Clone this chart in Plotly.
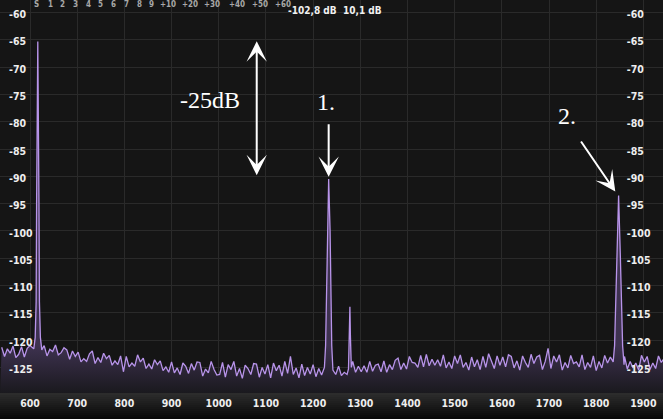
import numpy as np
import plotly.graph_objects as go

# ---------------- data ----------------
noise_start_hz = 540
noise_step_hz = 6
noise_db = [
    -121.3, -123.0, -121.6, -122.4, -121.1, -123.2, -122.6, -121.2, -123.1, -121.5,
    -121.0, -121.4, -120.5, -120.0, -121.5, -121.0, -122.9, -121.7, -122.1, -120.9,
    -122.7, -122.3, -121.4, -121.8, -123.5, -122.0, -123.0, -122.2, -124.0, -123.4,
    -123.9, -122.5, -122.0, -124.3, -123.2, -124.1, -122.4, -123.4, -122.8, -124.6,
    -123.8, -124.5, -122.9, -125.8, -123.0, -124.9, -124.2, -124.8, -122.7, -124.0,
    -123.3, -125.2, -124.4, -125.3, -123.6, -124.5, -123.8, -125.6, -124.9, -125.9,
    -124.0, -126.0, -125.1, -126.3, -124.2, -124.8, -126.1, -124.3, -125.5, -124.0,
    -124.1, -126.6, -125.3, -126.0, -123.9, -125.4, -126.4, -126.3, -124.1, -126.8,
    -124.5, -125.4, -123.9, -126.6, -125.2, -127.0, -124.6, -125.2, -126.3, -124.3,
    -124.4, -126.8, -125.0, -126.2, -124.5, -126.9, -124.2, -125.6, -124.6, -126.6,
    -123.9, -126.1, -123.0, -126.3, -125.1, -126.9, -124.4, -126.5, -125.0, -126.2,
    -124.5, -126.7, -125.2, -126.4, -125.2, -125.0, -125.0, -125.4, -126.3, -124.8,
    -126.5, -125.9, -126.3, -125.0, -123.9, -125.9, -124.8, -125.8, -124.7, -125.9,
    -123.9, -125.7, -124.6, -124.4, -125.8, -123.8, -125.9, -124.5, -125.4, -123.7,
    -123.3, -125.4, -124.2, -125.3, -123.0, -124.1, -124.2, -125.0, -122.8, -124.9,
    -122.6, -124.7, -123.5, -124.6, -123.6, -124.8, -122.7, -125.1, -124.0, -125.2,
    -122.9, -124.3, -122.7, -125.0, -124.1, -125.5, -123.1, -124.9, -123.6, -125.4,
    -123.0, -125.0, -122.5, -123.9, -125.2, -122.9, -124.6, -123.1, -124.9, -122.7,
    -123.0, -125.1, -123.8, -125.5, -122.9, -124.1, -125.0, -122.6, -124.3, -123.1,
    -122.8, -125.4, -123.9, -121.5, -125.2, -122.9, -124.0, -122.7, -125.5, -124.1,
    -125.1, -122.8, -124.3, -124.0, -124.9, -122.7, -125.4, -124.1, -125.0, -122.9,
    -125.6, -123.9, -125.1, -122.8, -124.2, -123.1, -124.2, -124.2, -124.2, -124.2,
    -123.0, -125.3, -123.9, -125.1, -124.2, -125.5, -122.8, -124.0, -123.0, -125.4,
    -124.2, -125.2, -122.9, -124.1, -123.3,
]

peak1_freq = [608, 611, 613, 614, 616.5, 619, 620, 622, 625]
peak1_db = [-121.6, -119.5, -113.0, -95.0, -65.3, -95.0, -113.0, -119.5, -121.8]

peak2_freq = [1224, 1226.5, 1228, 1230, 1233, 1236, 1238, 1239.5, 1242]
peak2_db = [-125.0, -121.0, -112.0, -100.0, -90.5, -100.0, -112.0, -121.0, -125.5]

peak3_freq = [1275, 1277, 1278, 1279, 1281]
peak3_db = [-125.3, -119.0, -113.9, -119.0, -125.0]

peak4_freq = [1836, 1839, 1841.5, 1844, 1847.5, 1851, 1853.5, 1856, 1859]
peak4_db = [-124.0, -121.0, -114.0, -104.0, -93.5, -104.0, -114.0, -121.0, -124.5]

x_ticks = [600, 700, 800, 900, 1000, 1100, 1200, 1300, 1400, 1500, 1600, 1700, 1800, 1900]
y_ticks = [-60, -65, -70, -75, -80, -85, -90, -95, -100, -105, -110, -115, -120, -125]
s_scale_labels = ["S", "1", "2", "3", "4", "5", "6", "7", "8", "9",
                  "+10", "+20", "+30", "+40", "+50", "+60"]
readout_level = "-102,8 dB"
readout_snr = "10,1 dB"

# ---------------- build spectrum ----------------
noise_freq = noise_start_hz + noise_step_hz * np.arange(len(noise_db))
noise_db_arr = np.array(noise_db)
keep = np.ones(len(noise_freq), dtype=bool)
peaks = [(peak1_freq, peak1_db), (peak2_freq, peak2_db),
         (peak3_freq, peak3_db), (peak4_freq, peak4_db)]
for pf, _ in peaks:
    keep &= ~((noise_freq >= min(pf)) & (noise_freq <= max(pf)))
all_f = list(noise_freq[keep])
all_d = list(noise_db_arr[keep])
for pf, pd_ in peaks:
    all_f += list(pf)
    all_d += list(pd_)
order = np.argsort(all_f)
spec_f = np.array(all_f)[order]
spec_d = np.array(all_d)[order]

# ---------------- geometry ----------------
W, H = 663, 419
BOTTOM = 26
X_RANGE = [536.4, 1941.6]
Y_RANGE = [-129.69, -57.71]

fig = go.Figure()

# invisible baseline for fill
fig.add_trace(go.Scatter(
    x=[X_RANGE[0], X_RANGE[1]], y=[Y_RANGE[0], Y_RANGE[0]],
    mode="lines", line=dict(width=0, color="rgba(0,0,0,0)"),
    hoverinfo="skip", showlegend=False))

fig.add_trace(go.Scatter(
    x=spec_f, y=spec_d, mode="lines",
    line=dict(color="#b894ea", width=1.3),
    fill="tonexty",
    fillgradient=dict(type="vertical",
                      colorscale=[[0, "rgb(26,25,30)"], [1, "rgb(62,50,80)"]],
                      start=Y_RANGE[0], stop=-121),
    hoverinfo="skip", showlegend=False))

# dummy traces so the label axes exist
fig.add_trace(go.Scatter(x=[None], y=[None], yaxis="y2", showlegend=False,
                         hoverinfo="skip"))
fig.add_trace(go.Scatter(x=[None], y=[None], yaxis="y3", showlegend=False,
                         hoverinfo="skip"))

tick_font = dict(family="DejaVu Sans Condensed, DejaVu Sans", size=10.5,
                 color="#eeeeee", weight="bold")

label_axis = dict(range=Y_RANGE, tickvals=y_ticks, ticktext=[str(v) for v in y_ticks],
                  overlaying="y", anchor="free", side="right",
                  showgrid=False, zeroline=False, showline=False, ticks="",
                  tickfont=tick_font, ticklabelshift=2, fixedrange=True)

fig.update_layout(
    width=W, height=H,
    margin=dict(l=0, r=0, t=0, b=BOTTOM, pad=0),
    paper_bgcolor="#151515",
    plot_bgcolor="#151515",
    showlegend=False,
    xaxis=dict(range=X_RANGE, tickvals=x_ticks, ticktext=[str(v) for v in x_ticks],
               showgrid=True, gridcolor="#2a2a2a", gridwidth=1,
               zeroline=False, showline=False, ticks="", tickfont=tick_font,
               fixedrange=True, ticklabelstandoff=2),
    yaxis=dict(range=Y_RANGE, tickvals=y_ticks, showticklabels=False,
               showgrid=True, gridcolor="#2a2a2a", gridwidth=1,
               zeroline=False, showline=False, ticks="", fixedrange=True),
    yaxis2=dict(position=0.944, **label_axis),
    yaxis3=dict(position=0.012, **label_axis),
)

# bottom axis strip gradient
n_bands = 13
band_h = BOTTOM / n_bands
for i in range(n_bands):
    t = i / (n_bands - 1)
    g = int(8 + t * 36)
    fig.add_shape(type="rect", xref="paper", yref="paper",
                  x0=0, x1=1,
                  y0=-(BOTTOM - i * band_h) / (H - BOTTOM),
                  y1=-(BOTTOM - (i + 1) * band_h) / (H - BOTTOM),
                  fillcolor=f"rgb({g},{g},{g})", line=dict(width=0), layer="below")

# S-meter scale at top
s_positions = [36.7, 50, 62.3, 75.7, 88.3, 101, 113.3, 126, 139, 151.7,
               168.3, 190, 212.3, 236.7, 260, 283.3]
for lab, px in zip(s_scale_labels, s_positions):
    fig.add_annotation(text=lab, xref="paper", yref="paper", x=px / W, y=1,
                       xanchor="center", yanchor="middle", yshift=-4,
                       showarrow=False,
                       font=dict(family="DejaVu Sans Condensed, DejaVu Sans", size=8,
                                 color="#a8a8a8", weight="bold"))

readout_font = dict(family="DejaVu Sans Condensed, DejaVu Sans", size=10,
                    color="#f0f0f0", weight="bold")
fig.add_annotation(text=readout_level, xref="paper", yref="paper", x=286 / W, y=1,
                   xanchor="left", yanchor="middle", yshift=-10, showarrow=False,
                   font=readout_font)
fig.add_annotation(text=readout_snr, xref="paper", yref="paper", x=341 / W, y=1,
                   xanchor="left", yanchor="middle", yshift=-10, showarrow=False,
                   font=readout_font)

# hand annotations
serif = dict(family="Liberation Serif, Times New Roman, serif", size=24, color="#ffffff")
fig.add_annotation(text="-25dB", x=981.5, y=-76.0, xref="x", yref="y",
                   showarrow=False, font=serif)
fig.add_annotation(text="1.", x=1227.4, y=-76.4, xref="x", yref="y",
                   showarrow=False, font=serif)
fig.add_annotation(text="2.", x=1738.0, y=-79.0, xref="x", yref="y",
                   showarrow=False, font=serif)

arrow_common = dict(showarrow=True, text="", xref="x", yref="y", axref="x", ayref="y",
                    arrowcolor="#ffffff", arrowwidth=2, arrowhead=3, arrowsize=1.7,
                    standoff=0, startstandoff=0)
# double arrow
fig.add_annotation(x=1080.5, y=-89.8, ax=1080.5, ay=-65.0,
                   arrowside="end+start", startarrowhead=3, startarrowsize=1.7,
                   **arrow_common)
# arrow to peak 1
fig.add_annotation(x=1233.0, y=-90.1, ax=1233.0, ay=-80.2, **arrow_common)
# arrow to peak 2
fig.add_annotation(x=1840.5, y=-92.8, ax=1765.7, ay=-83.35, **arrow_common)

fig.write_html(
    "out.html",
    config={"displayModeBar": False},
    post_script="document.body.style.margin='0';document.body.style.padding='0';"
                "document.documentElement.style.margin='0';",
)
